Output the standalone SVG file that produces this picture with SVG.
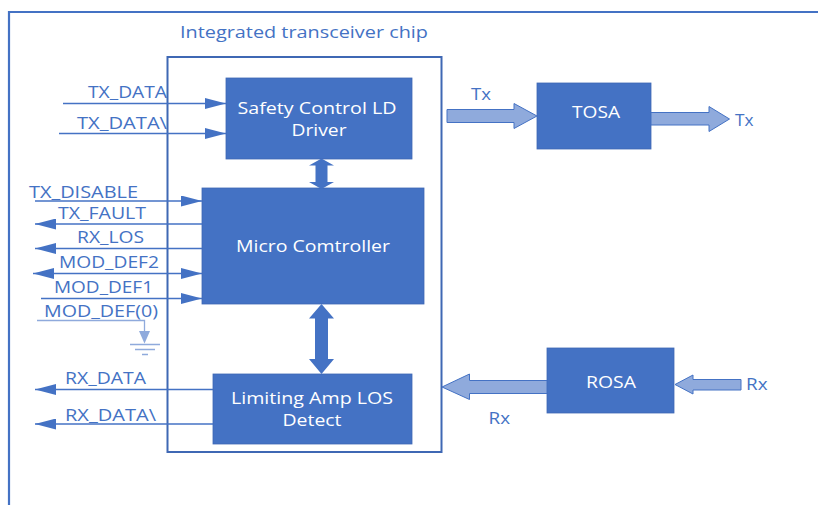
<svg xmlns="http://www.w3.org/2000/svg" width="818" height="505" viewBox="0 0 818 505">
<defs>
<style>
.frame{fill:none;stroke:#4472C4;stroke-width:2.2}
.chip{fill:none;stroke:#3F68B4;stroke-width:2}
.box{fill:#4472C4;stroke:#3F68B4;stroke-width:0.8}
.bt{font-family:"Open Sans","Noto Sans",sans-serif;font-size:17px;fill:#FFFFFF;text-anchor:middle}
.lt{font-family:"Open Sans","Noto Sans",sans-serif;font-size:17px;fill:#4472C4}
.sig{fill:none;stroke:#4472C4;stroke-width:1.3}
.gnd{fill:none;stroke:#8FAADC;stroke-width:1.3}
.blk{fill:#8FAADC;stroke:#4472C4;stroke-width:1}
.dbl{fill:#4472C4;stroke:none}
</style>
<marker id="ah" markerUnits="userSpaceOnUse" markerWidth="21" markerHeight="11" refX="21" refY="5.5" orient="auto-start-reverse" viewBox="0 0 21 11">
<path d="M0,0 L21,5.5 L0,11 Z" fill="#4472C4"/>
</marker>
</defs>
<path class="frame" d="M9,505 V12 H818"/>
<text class="lt" x="180" y="38" textLength="248" lengthAdjust="spacingAndGlyphs">Integrated transceiver chip</text>
<g id="chip"><rect class="chip" x="167.5" y="57" width="274" height="395"/></g>
<g id="ld-driver">
<rect class="box" x="226" y="78" width="186" height="81"/>
<text class="bt" x="317" y="113.5" textLength="159" lengthAdjust="spacingAndGlyphs">Safety Control LD</text>
<text class="bt" x="319" y="135.5" textLength="55" lengthAdjust="spacingAndGlyphs">Driver</text>
</g>
<g id="micro">
<rect class="box" x="202" y="188" width="222" height="116"/>
<text class="bt" x="313" y="252" textLength="154" lengthAdjust="spacingAndGlyphs">Micro Comtroller</text>
</g>
<g id="limiting-amp">
<rect class="box" x="213" y="374" width="199" height="70"/>
<text class="bt" x="312" y="404" textLength="162" lengthAdjust="spacingAndGlyphs">Limiting Amp LOS</text>
<text class="bt" x="312" y="426" textLength="59" lengthAdjust="spacingAndGlyphs">Detect</text>
</g>
<g id="tosa">
<rect class="box" x="537" y="83" width="114" height="66"/>
<text class="bt" x="596" y="117.5" textLength="48" lengthAdjust="spacingAndGlyphs">TOSA</text>
</g>
<g id="rosa">
<rect class="box" x="547" y="348" width="127" height="65"/>
<text class="bt" x="611" y="387.5" textLength="50" lengthAdjust="spacingAndGlyphs">ROSA</text>
</g>
<g id="ground">
<path class="gnd" d="M130,344.5 H160 M135,349.5 H155 M142,354.5 H148"/>
</g>
<g id="connectors">
<path class="sig" d="M63,103.5 H226" marker-end="url(#ah)"/>
<path class="sig" d="M59,133.5 H226" marker-end="url(#ah)"/>
<path class="sig" d="M35,201 H202" marker-end="url(#ah)"/>
<path class="sig" d="M202,224 H35" marker-end="url(#ah)"/>
<path class="sig" d="M202,248.5 H35" marker-end="url(#ah)"/>
<path class="sig" d="M33,273.5 H202" marker-start="url(#ah)" marker-end="url(#ah)"/>
<path class="sig" d="M41,298.5 H202" marker-end="url(#ah)"/>
<path class="gnd" d="M37,320.5 H144.5 V332"/>
<path d="M139,331 L150,331 L144.5,343.5 Z" fill="#8FAADC"/>
<path class="sig" d="M213,389.5 H35" marker-end="url(#ah)"/>
<path class="sig" d="M213,424 H35" marker-end="url(#ah)"/>
<path class="dbl" d="M321.5,158.5 L334,165.5 L327.5,165.5 L327.5,182 L334,182 L321.5,189 L309,182 L315.5,182 L315.5,165.5 L309,165.5 Z"/>
<path class="dbl" d="M321.5,304 L334,318.5 L328,318.5 L328,359 L334,359 L321.5,374 L309,359 L315,359 L315,318.5 L309,318.5 Z"/>
<polygon class="blk" points="447,109.5 514,109.5 514,103.5 537,116 514,128.5 514,122.5 447,122.5"/>
<polygon class="blk" points="651,112.5 709,112.5 709,106.5 729.5,119 709,131.5 709,125 651,125"/>
<polygon class="blk" points="547,380.5 469.5,380.5 469.5,374 442,387 469.5,399.5 469.5,393.5 547,393.5"/>
<polygon class="blk" points="741,379.5 693,379.5 693,375 675,384.5 693,394 693,390 741,390"/>
</g>
<g id="labels">
<text class="lt" x="88" y="98" textLength="79" lengthAdjust="spacingAndGlyphs">TX_DATA</text>
<text class="lt" x="77" y="128.5" textLength="90" lengthAdjust="spacingAndGlyphs">TX_DATA\</text>
<text class="lt" x="29" y="197.5" textLength="109" lengthAdjust="spacingAndGlyphs">TX_DISABLE</text>
<text class="lt" x="58" y="218.5" textLength="88" lengthAdjust="spacingAndGlyphs">TX_FAULT</text>
<text class="lt" x="77" y="242.5" textLength="67" lengthAdjust="spacingAndGlyphs">RX_LOS</text>
<text class="lt" x="59" y="267.5" textLength="100" lengthAdjust="spacingAndGlyphs">MOD_DEF2</text>
<text class="lt" x="54" y="292.5" textLength="99" lengthAdjust="spacingAndGlyphs">MOD_DEF1</text>
<text class="lt" x="44" y="316.5" textLength="114" lengthAdjust="spacingAndGlyphs">MOD_DEF(0)</text>
<text class="lt" x="65" y="384" textLength="81" lengthAdjust="spacingAndGlyphs">RX_DATA</text>
<text class="lt" x="65" y="420.5" textLength="91" lengthAdjust="spacingAndGlyphs">RX_DATA\</text>
<text class="lt" x="471" y="100" textLength="20" lengthAdjust="spacingAndGlyphs">Tx</text>
<text class="lt" x="735" y="125.5" textLength="18.5" lengthAdjust="spacingAndGlyphs">Tx</text>
<text class="lt" x="488.5" y="423.5" textLength="21.5" lengthAdjust="spacingAndGlyphs">Rx</text>
<text class="lt" x="746" y="390" textLength="21.5" lengthAdjust="spacingAndGlyphs">Rx</text>
</g>
</svg>
